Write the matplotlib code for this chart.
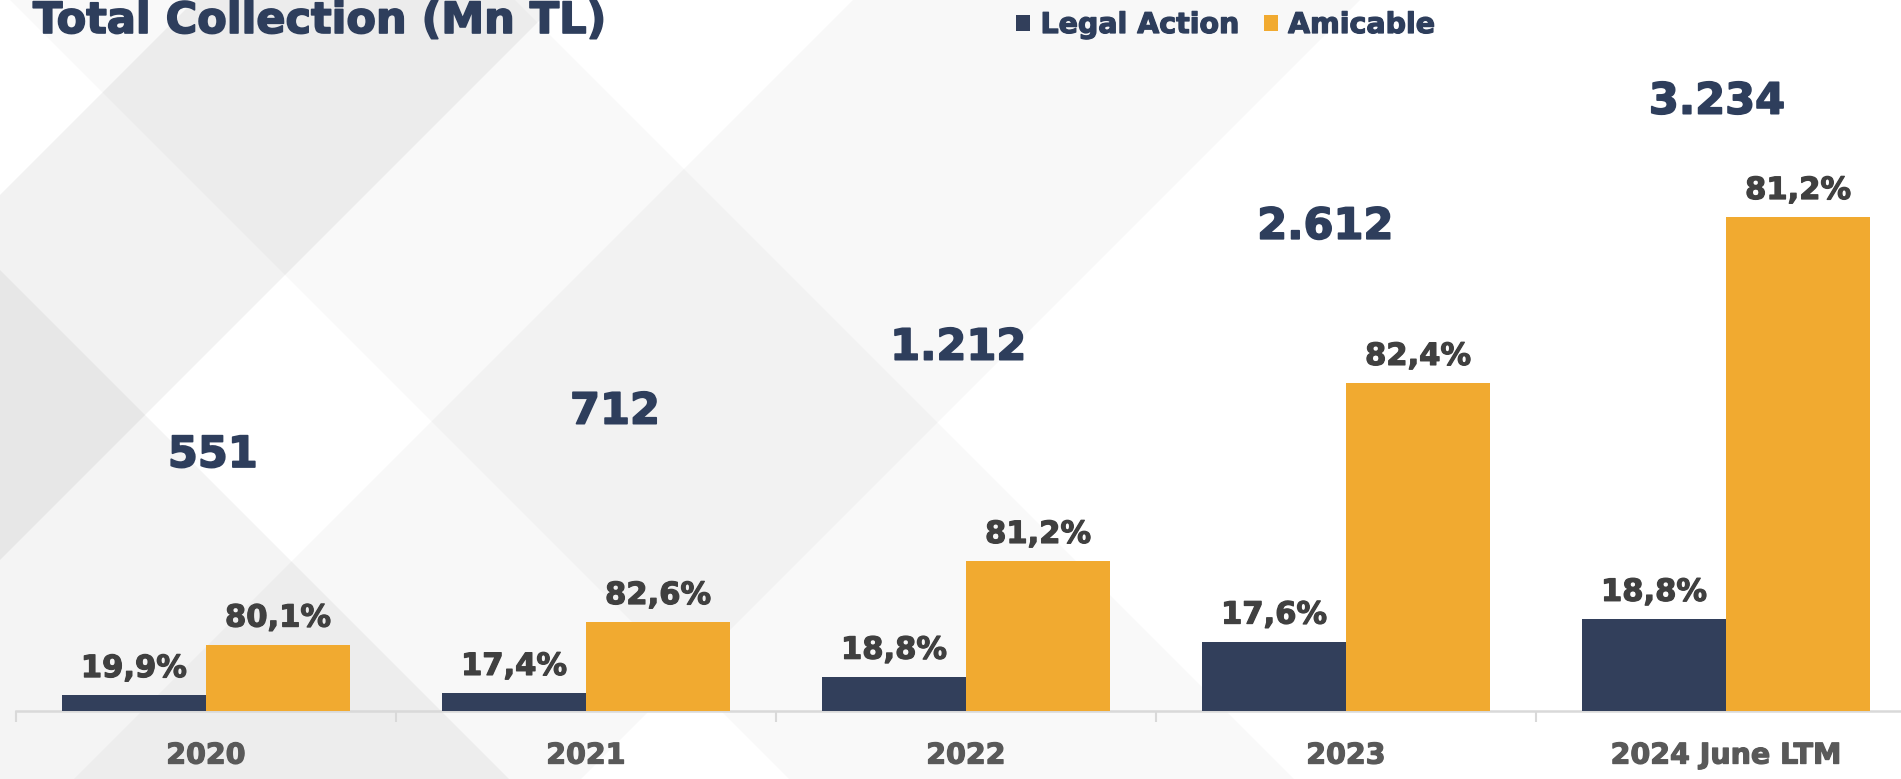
import matplotlib
matplotlib.use("Agg")
import matplotlib.pyplot as plt
import matplotlib.transforms as mtransforms
import matplotlib.patheffects as pe
from matplotlib.patches import Polygon, Patch
import numpy as np

# ---- data ----
categories = ["2020", "2021", "2022", "2023", "2024 June LTM"]
legal_action = [105, 119, 226, 458, 608]          # Mn TL
amicable = [438, 587, 990, 2165, 3260]            # Mn TL
legal_pct_labels = ["19,9%", "17,4%", "18,8%", "17,6%", "18,8%"]
amicable_pct_labels = ["80,1%", "82,6%", "81,2%", "82,4%", "81,2%"]
total_labels = ["551", "712", "1.212", "2.612", "3.234"]

# ---- styling / layout ----
W, H = 1901, 779
NAVY = "#323F5B"
TITLE_NAVY = "#2E3E5C"
ORANGE = "#F1AA30"
PCT_COLOR = "#404040"
TICK_COLOR = "#595959"
AXIS_GRAY = "#D9D9D9"
FONT = "DejaVu Sans"

total_x_offsets = [0.018, 0.076, -0.021, -0.055, -0.024]
total_y_axfrac = [0.360, 0.421, 0.511, 0.681, 0.857]


def heavy(color, lw=1.0):
    return [pe.withStroke(linewidth=lw, foreground=color)]


fig = plt.figure(figsize=(W / 100, H / 100), dpi=100)
fig.patch.set_facecolor("white")

# ---- background lattice of light diagonal bands ----
bg = fig.add_axes([0, 0, 1, 1], zorder=0)
bg.set_xlim(0, W)
bg.set_ylim(H, 0)
bg.axis("off")
# "/" bands: x + y in (a, b)
for a, b, al in [(195, 560, 0.052), (853, 1360, 0.028)]:
    bg.add_patch(Polygon([(a + 1000, -1000), (b + 1000, -1000),
                          (b - 3000, 3000), (a - 3000, 3000)],
                         closed=True, facecolor=(0, 0, 0, al), edgecolor="none"))
# "\" bands: y - x in (a, b)
for a, b, al in [(-515, -10, 0.025), (270, 1000, 0.045)]:
    bg.add_patch(Polygon([(-1000, a - 1000), (3000, a + 3000),
                          (3000, b + 3000), (-1000, b - 1000)],
                         closed=True, facecolor=(0, 0, 0, al), edgecolor="none"))

# ---- main axes ----
ax = fig.add_axes([16 / W, (H - 711) / H, 1900 / W, 711 / H], zorder=2)
ax.patch.set_alpha(0)
x = np.arange(len(categories))
bw = 0.379
ax.bar(x - bw / 2, legal_action, width=bw, color=NAVY, label="Legal Action", zorder=3)
ax.bar(x + bw / 2, amicable, width=bw, color=ORANGE, label="Amicable", zorder=3)
ax.set_xlim(-0.5, len(categories) - 0.5)
ax.set_ylim(0, 711 * 6.6)

for s in ["top", "right", "left"]:
    ax.spines[s].set_visible(False)
ax.spines["bottom"].set_color(AXIS_GRAY)
ax.spines["bottom"].set_linewidth(1.8)
ax.set_yticks([])
ax.set_xticks(x)
ax.set_xticklabels(categories, fontsize=20.5, fontweight="bold",
                   color=TICK_COLOR, family=FONT)
for t in ax.get_xticklabels():
    t.set_path_effects(heavy(TICK_COLOR, 0.9))
ax.tick_params(axis="x", which="major", length=0, pad=22)
ax.set_xticks(np.arange(-0.5, len(categories), 1.0), minor=True)
ax.tick_params(axis="x", which="minor", length=8, width=1.5, color=AXIS_GRAY)

# percentage labels
for i in range(len(categories)):
    ax.annotate(legal_pct_labels[i], (x[i] - bw / 2, legal_action[i]),
                xytext=(0, 13), textcoords="offset points", ha="center",
                va="baseline", fontsize=22, fontweight="bold", color=PCT_COLOR,
                family=FONT, zorder=4, path_effects=heavy(PCT_COLOR, 0.9))
    ax.annotate(amicable_pct_labels[i], (x[i] + bw / 2, amicable[i]),
                xytext=(0, 13), textcoords="offset points", ha="center",
                va="baseline", fontsize=22, fontweight="bold", color=PCT_COLOR,
                family=FONT, zorder=4, path_effects=heavy(PCT_COLOR, 0.9))

# total labels
trans = mtransforms.blended_transform_factory(ax.transData, ax.transAxes)
for i in range(len(categories)):
    ax.text(x[i] + total_x_offsets[i], total_y_axfrac[i], total_labels[i],
            transform=trans, ha="center", va="center", fontsize=31,
            fontweight="bold", color=TITLE_NAVY, family=FONT, zorder=4,
            path_effects=heavy(TITLE_NAVY, 1.2))

# title
fig.text(33 / W, 1 - 33 / H, "Total Collection (Mn TL)", ha="left", va="baseline",
         fontsize=31, fontweight="bold", color=TITLE_NAVY, family=FONT, zorder=5,
         path_effects=heavy(TITLE_NAVY, 1.2))

# legend
handles = [Patch(facecolor=NAVY, edgecolor="none", label="Legal Action"),
           Patch(facecolor=ORANGE, edgecolor="none", label="Amicable")]
leg = fig.legend(handles=handles, loc="center left",
                 bbox_to_anchor=(1016 / W, 1 - 25 / H), bbox_transform=fig.transFigure,
                 ncol=2, frameon=False, handlelength=0.5, handleheight=0.5,
                 handletextpad=0.36, columnspacing=0.85, borderpad=0, borderaxespad=0,
                 prop={"family": FONT, "weight": "bold", "size": 20.5})
for t in leg.get_texts():
    t.set_color(TITLE_NAVY)
    t.set_path_effects(heavy(TITLE_NAVY, 0.9))

fig.savefig("out.png", dpi=100)
